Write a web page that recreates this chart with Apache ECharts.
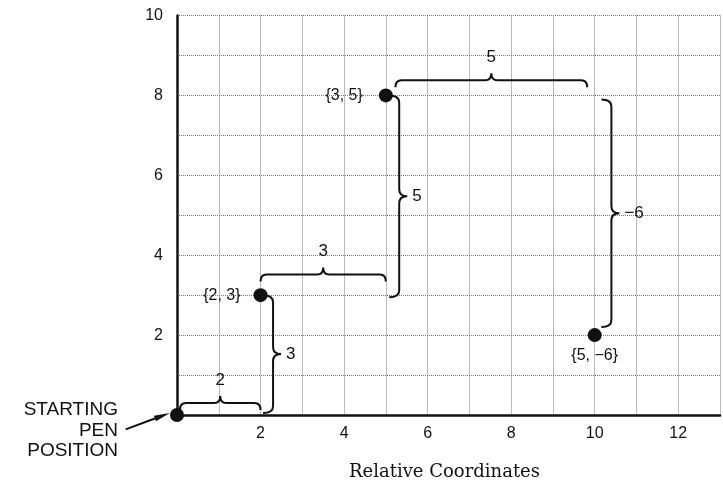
<!DOCTYPE html>
<html><head><meta charset="utf-8">
<script src="https://cdn.jsdelivr.net/npm/echarts@6/dist/echarts.min.js"></script>
<style>html,body{margin:0;padding:0;background:#fff}#c{width:723px;height:491px}</style>
</head><body><div id="c"></div>
<script>
// ---- data ----
const xTickLabels = [2, 4, 6, 8, 10, 12];
const yTickLabels = [2, 4, 6, 8, 10];
const pointX = [0, 2, 5, 10];
const pointY = [0, 3, 8, 2];
const pointLabels = ['', '{2, 3}', '{3, 5}', '{5, −6}'];
const hBraceX1 = [0.07, 2.0, 5.23];
const hBraceX2 = [2.0, 5.0, 9.82];
const hBraceY = [0.3, 3.52, 8.38];
const hBraceLabels = ['2', '3', '5'];
const vBraceX = [2.3, 5.32, 10.4];
const vBraceY1 = [3.0, 8.0, 7.9];
const vBraceY2 = [0.05, 2.95, 2.2];
const vBraceLabels = ['3', '5', '−6'];
const arrowFrom = [-1.23, -0.36];
const arrowTo = [-0.17, 0.05];
const startLabel = 'STARTING\nPEN\nPOSITION';
const xTitle = 'Relative Coordinates';

// ---- chart ----
const INK = '#111';
const SANS = '"Liberation Sans", Arial, sans-serif';
const chart = echarts.init(document.getElementById('c'), null, {renderer: 'canvas'});

const labelPos = ['left', 'left', 'left', 'bottom'];
const labelDist = [5, 13, 16, 5];

function hBraceItem(params, api) {
  const p1 = api.coord([api.value(0), api.value(2)]);
  const p2 = api.coord([api.value(1), api.value(2)]);
  const y0 = p1[1], x1 = p1[0], x2 = p2[0], xm = (x1 + x2) / 2;
  const d = 7, t = 7, r = 6;
  const path = `M${x1} ${y0 + d} Q${x1} ${y0} ${x1 + r} ${y0} L${xm - r} ${y0} Q${xm} ${y0} ${xm} ${y0 - t} ` +
    `Q${xm} ${y0} ${xm + r} ${y0} L${x2 - r} ${y0} Q${x2} ${y0} ${x2} ${y0 + d}`;
  return {type: 'group', children: [
    {type: 'path', shape: {pathData: path}, style: {fill: 'none', stroke: INK, lineWidth: 2}},
    {type: 'text', x: xm, y: y0 - t - 16, style: {text: hBraceLabels[params.dataIndex], fill: INK,
      font: '17px ' + SANS, align: 'center', verticalAlign: 'middle'}}
  ]};
}

function vBraceItem(params, api) {
  const p1 = api.coord([api.value(0), api.value(1)]);
  const p2 = api.coord([api.value(0), api.value(2)]);
  const x0 = p1[0], y1 = p1[1], y2 = p2[1], ym = (y1 + y2) / 2;
  const d = 10, t = 8, r = 7;
  const path = `M${x0 - d} ${y1} Q${x0} ${y1} ${x0} ${y1 + r} L${x0} ${ym - r} Q${x0} ${ym} ${x0 + t} ${ym} ` +
    `Q${x0} ${ym} ${x0} ${ym + r} L${x0} ${y2 - r} Q${x0} ${y2} ${x0 - d} ${y2}`;
  return {type: 'group', children: [
    {type: 'path', shape: {pathData: path}, style: {fill: 'none', stroke: INK, lineWidth: 2}},
    {type: 'text', x: x0 + t + 5, y: ym, style: {text: vBraceLabels[params.dataIndex], fill: INK,
      font: '17px ' + SANS, align: 'left', verticalAlign: 'middle'}}
  ]};
}

function arrowItem(params, api) {
  const a = api.coord([api.value(0), api.value(1)]);
  const b = api.coord([api.value(2), api.value(3)]);
  const dx = b[0] - a[0], dy = b[1] - a[1], len = Math.hypot(dx, dy);
  const ux = dx / len, uy = dy / len, hl = 16, hw = 3;
  const bx = b[0] - ux * hl, by = b[1] - uy * hl;
  return {type: 'group', children: [
    {type: 'line', shape: {x1: a[0], y1: a[1], x2: bx, y2: by}, style: {stroke: INK, lineWidth: 2}},
    {type: 'polygon', shape: {points: [[b[0], b[1]], [bx - uy * hw, by + ux * hw], [bx + uy * hw, by - ux * hw]]},
      style: {fill: INK}}
  ]};
}

const option = {
  backgroundColor: '#fff',
  animation: false,
  grid: {left: 177, top: 15.5, bottom: 76, right: -3, containLabel: false},
  xAxis: {
    type: 'value', min: 0, max: 13, interval: 1,
    name: xTitle, nameLocation: 'middle', nameGap: 48,
    nameTextStyle: {fontFamily: '"DejaVu Serif", serif', fontSize: 18, color: INK, padding: [0, 8, 0, 0]},
    axisLine: {show: true, onZero: false, lineStyle: {color: INK, width: 2.5}},
    axisTick: {show: false},
    axisLabel: {margin: 11, fontSize: 16, fontFamily: SANS, color: INK,
      formatter: v => xTickLabels.includes(v) ? String(v) : ''},
    splitLine: {show: true, lineStyle: {color: '#7a7a7a', type: 'dotted', width: 1}}
  },
  yAxis: {
    type: 'value', min: 0, max: 10, interval: 1,
    axisLine: {show: true, onZero: false, lineStyle: {color: INK, width: 2.5}},
    axisTick: {show: false},
    axisLabel: {margin: 14, fontSize: 16, fontFamily: SANS, color: INK,
      formatter: v => yTickLabels.includes(v) ? String(v) : ''},
    splitLine: {show: true, lineStyle: {color: '#7a7a7a', type: 'dotted', width: 1}}
  },
  graphic: [{
    type: 'text', x: 118, y: 400,
    style: {text: startLabel, fill: INK, font: '19px ' + SANS, align: 'right', verticalAlign: 'top', lineHeight: 20.5}
  }],
  series: [
    {type: 'custom', renderItem: hBraceItem, z: 3,
      data: hBraceX1.map((x, i) => [x, hBraceX2[i], hBraceY[i]])},
    {type: 'custom', renderItem: vBraceItem, z: 3,
      data: vBraceX.map((x, i) => [x, vBraceY1[i], vBraceY2[i]])},
    {type: 'custom', renderItem: arrowItem, z: 3,
      data: [[arrowFrom[0], arrowFrom[1], arrowTo[0], arrowTo[1]]]},
    {type: 'scatter', symbolSize: 14, z: 5, itemStyle: {color: INK, opacity: 1},
      emphasis: {disabled: true},
      data: pointX.map((x, i) => ({
        value: [x, pointY[i]],
        label: {show: pointLabels[i] !== '', position: labelPos[i], distance: labelDist[i],
          formatter: pointLabels[i], fontSize: 16, fontFamily: SANS, color: INK, opacity: 1}
      }))}
  ]
};
chart.setOption(option);
</script>
</body></html>
